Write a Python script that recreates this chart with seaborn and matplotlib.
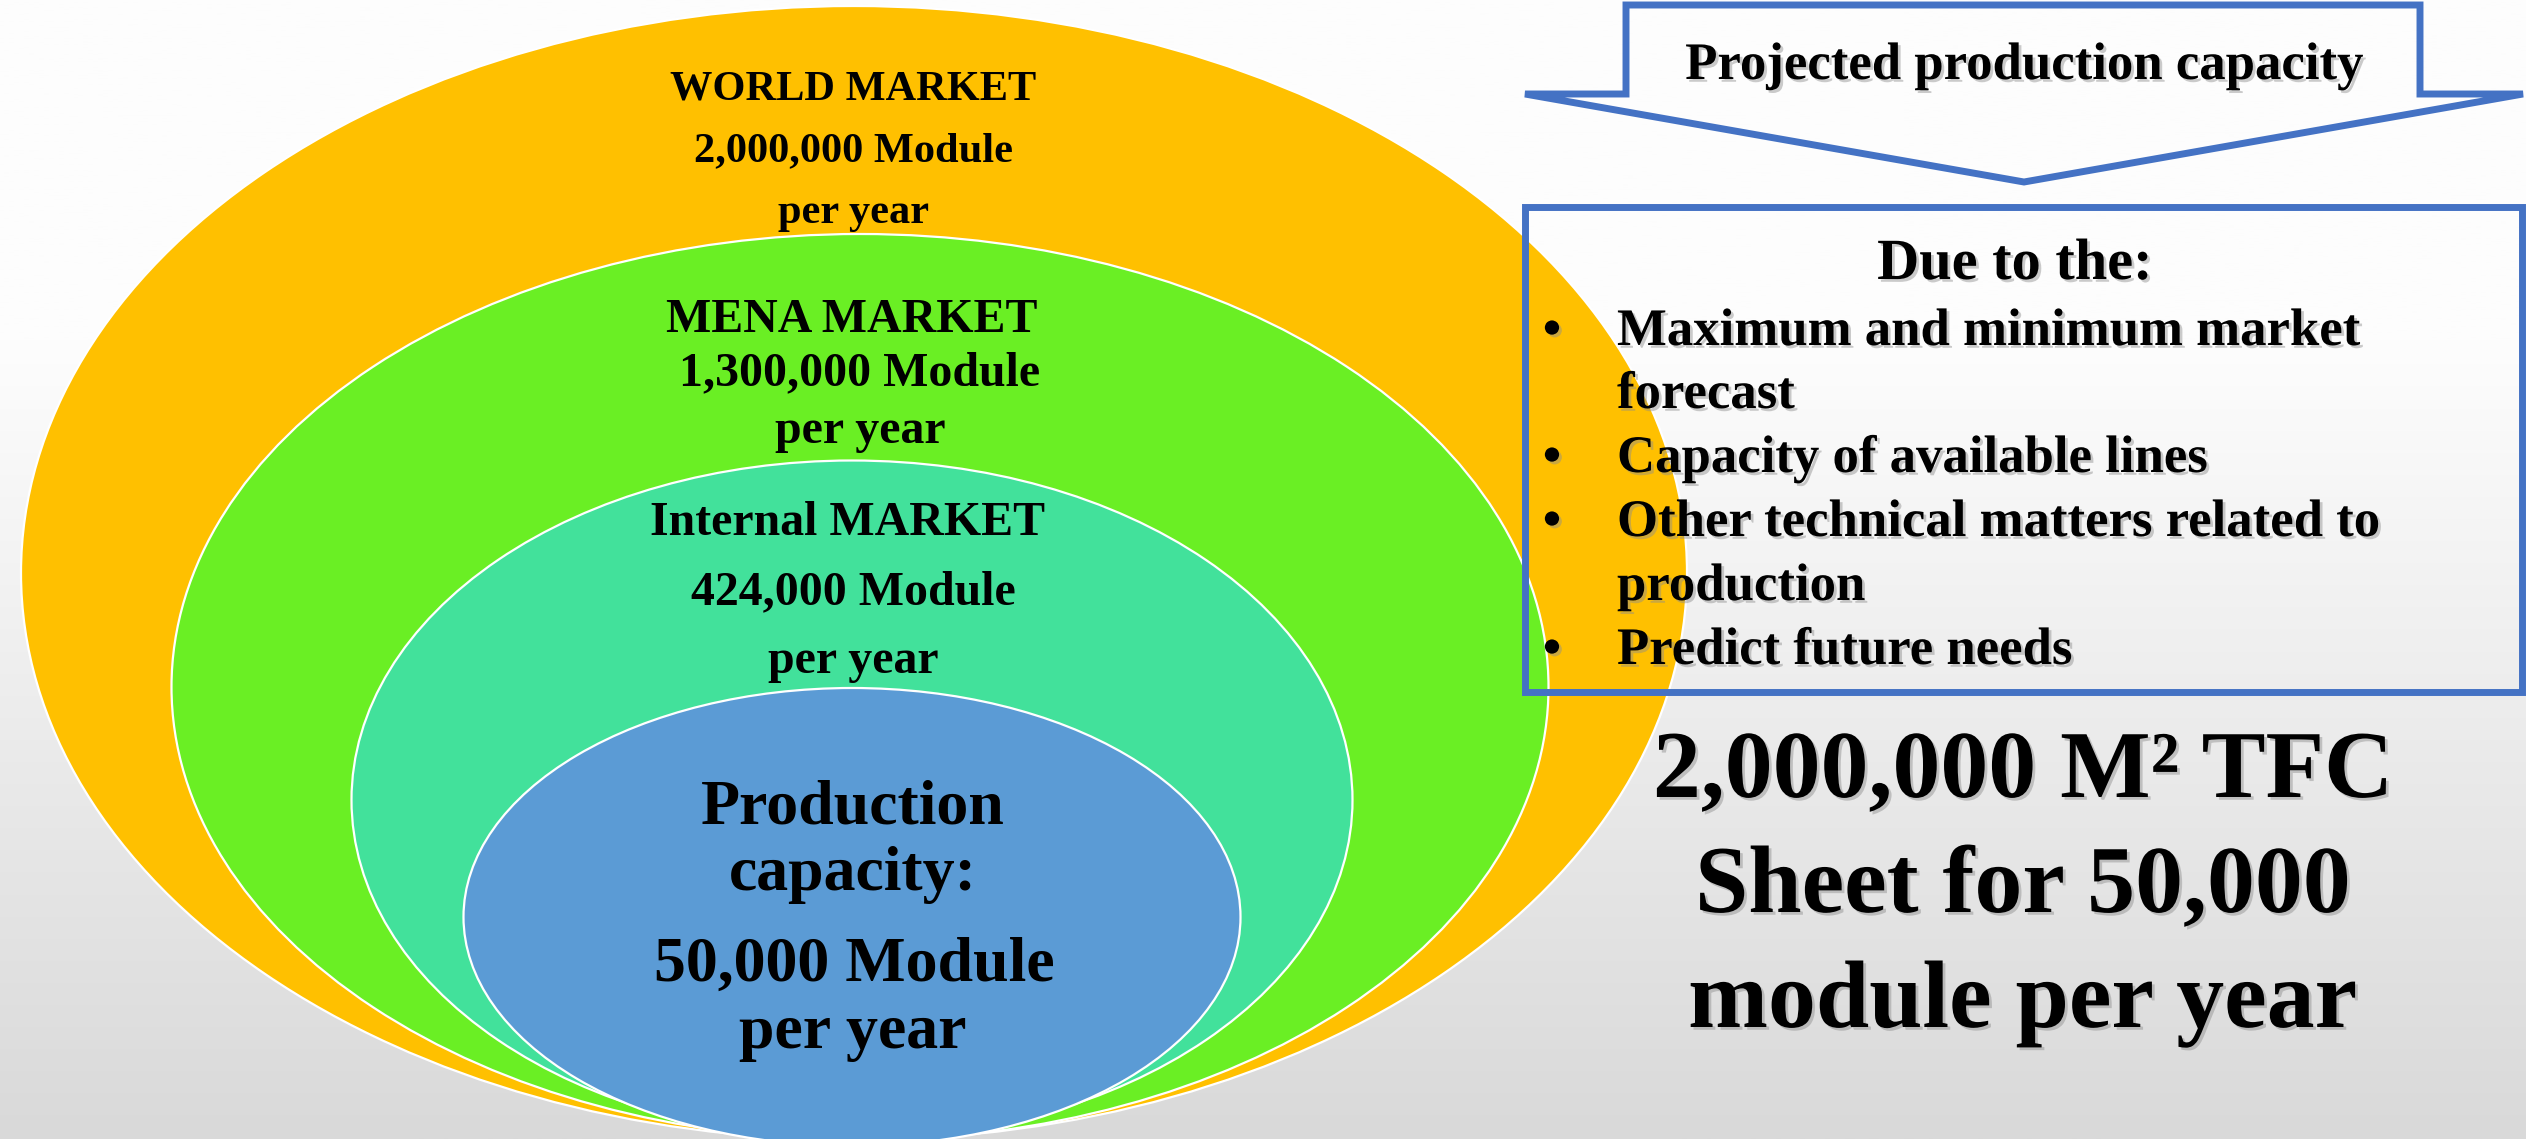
import numpy as np
import matplotlib
matplotlib.use("Agg")
import matplotlib.pyplot as plt
import matplotlib.patheffects as pe
from matplotlib.patches import Ellipse, Polygon, Rectangle
import seaborn as sns

# ---------------- data ----------------
market_names = ["WORLD MARKET", "MENA MARKET", "Internal MARKET", "Production capacity:"]
market_modules = ["2,000,000", "1,300,000", "424,000", "50,000"]
unit_text = "Module"
period_text = "per year"
market_colors = ["#FFC000", "#6AEF24", "#42E19B", "#5B9BD5"]

arrow_title = "Projected production capacity"
box_title = "Due to the:"
reasons = [
    ["Maximum and minimum market", "forecast"],
    ["Capacity of available lines"],
    ["Other technical matters related to", "production"],
    ["Predict future needs"],
]
summary_lines = ["2,000,000 M\u00b2 TFC", "Sheet for 50,000", "module per year"]

# ---------------- style ----------------
sns.set_theme(style="white")
plt.rcParams["font.family"] = ["Liberation Serif", "DejaVu Serif"]
plt.rcParams["font.weight"] = "bold"
palette = sns.color_palette(market_colors)

W, H = 2526, 1139
fig = plt.figure(figsize=(W / 100, H / 100), dpi=100)
ax = fig.add_axes([0, 0, 1, 1])
ax.set_xlim(0, W)
ax.set_ylim(H, 0)
ax.axis("off")

# background gradient (white top -> light grey bottom)
yy = np.linspace(0, 1, 400)
g = np.where(yy < 0.3, 253, 253 - (253 - 217) * ((yy - 0.3) / 0.7)) / 255.0
grad = np.repeat(g[:, None], 2, axis=1)
rgb = np.dstack([grad, grad, grad])
ax.imshow(rgb, extent=[0, W, H, 0], aspect="auto", zorder=0, interpolation="bilinear")

# ---------------- nested ellipses ----------------
ellipse_geom = [  # cx, cy, width, height
    (854, 573, 1666, 1134),
    (860, 687, 1377, 906),
    (852, 800, 1001, 679),
    (852, 917, 777, 458),
]
for (cx, cy, w, h), col in zip(ellipse_geom, palette):
    ax.add_patch(Ellipse((cx, cy), w, h, facecolor=col, edgecolor="white",
                         linewidth=1.6, zorder=2))

# ---------------- ellipse labels ----------------
label_specs = [
    # text, x, baseline, size
    (market_names[0], 853, 100, 30.5),
    (f"{market_modules[0]} {unit_text}", 853, 161, 30.5),
    (period_text, 853, 223, 30.5),
    (market_names[1], 852, 332, 34.5),
    (f"{market_modules[1]} {unit_text}", 860, 385, 34.5),
    (period_text, 860, 443, 34.5),
    (market_names[2], 847, 535, 34.5),
    (f"{market_modules[2]} {unit_text}", 853, 604, 34.5),
    (period_text, 853, 673, 34.5),
    (market_names[3].split(" ")[0], 853, 823, 46),
    (market_names[3].split(" ")[1], 853, 890, 46),
    (f"{market_modules[3]} {unit_text}", 854, 981, 46),
    (period_text, 853, 1048, 46),
]
for txt, x, yb, fs in label_specs:
    ax.text(x, yb, txt, ha="center", va="baseline", fontsize=fs,
            fontweight="bold", color="black", zorder=5)

shadow = [pe.withSimplePatchShadow(offset=(2, -2), shadow_rgbFace="#8c8c8c", alpha=0.45)]
blue = "#4472C4"

# ---------------- arrow callout ----------------
arrow_pts = [(1626, 5), (2420, 5), (2420, 94), (2523, 94), (2024, 182),
             (1525, 94), (1626, 94)]
ax.add_patch(Polygon(arrow_pts, closed=True, facecolor="none", edgecolor=blue,
                     linewidth=5, joinstyle="miter", zorder=4))
ax.text(2024, 79, arrow_title, ha="center", va="baseline", fontsize=38,
        fontweight="bold", color="black", zorder=6, path_effects=shadow)

# ---------------- reasons box ----------------
ax.add_patch(Rectangle((1525, 207), 997, 485, facecolor="none", edgecolor=blue,
                       linewidth=5, joinstyle="miter", zorder=4))
ax.text(2015, 279, box_title, ha="center", va="baseline", fontsize=42,
        fontweight="bold", color="black", zorder=6, path_effects=shadow)

reason_baselines = [345, 408, 472, 536, 600, 664]
i = 0
for item in reasons:
    for j, line in enumerate(item):
        yb = reason_baselines[i]
        if j == 0:
            ax.text(1552, yb, "\u2022", ha="center", va="baseline", fontsize=38,
                    fontweight="bold", color="black", zorder=6, path_effects=shadow)
        ax.text(1617, yb, line, ha="left", va="baseline", fontsize=38,
                fontweight="bold", color="black", zorder=6, path_effects=shadow)
        i += 1

# ---------------- summary text ----------------
summary_baselines = [797, 912, 1027]
for line, yb in zip(summary_lines, summary_baselines):
    ax.text(2023, yb, line, ha="center", va="baseline", fontsize=69,
            fontweight="bold", color="black", zorder=6, path_effects=shadow)

fig.savefig("out.png", dpi=100)
